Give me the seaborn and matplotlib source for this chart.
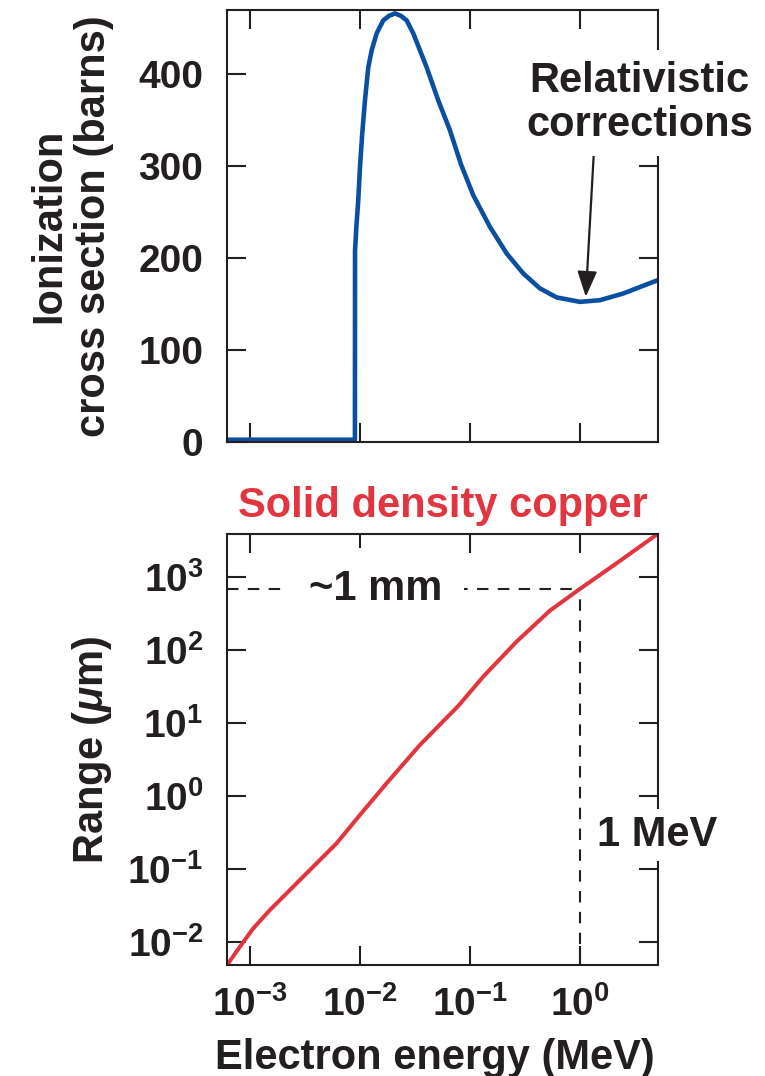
import numpy as np
import pandas as pd
import matplotlib
matplotlib.use("Agg")
import matplotlib.pyplot as plt
import seaborn as sns

# ---------------- data ----------------
# K-shell ionization cross section of copper (barns) vs electron energy (MeV)
xs_energy_mev = [6.18e-4, 0.009000, 0.009020, 0.009294, 0.009649, 0.01000, 0.010493,
                 0.011103, 0.011898, 0.012775, 0.014182, 0.016282, 0.018350, 0.020805,
                 0.023590, 0.026576, 0.030513, 0.040402, 0.051498, 0.065783, 0.08283,
                 0.10715, 0.15202, 0.21568, 0.30513, 0.43281, 0.61418, 1.0, 1.5199,
                 2.4754, 4.6384, 5.12]
xs_barns = [2.5, 2.5, 208.7, 235.9, 263.0, 298.9, 335.9,
            371.7, 407.6, 426.1, 444.6, 458.7, 463.6, 466.3,
            463.6, 458.7, 444.6, 407.6, 371.7, 339.1, 302.2,
            268.5, 234.0, 205.1, 183.4, 167.1, 157.3, 152.5, 154.3,
            161.6, 174.2, 176.1]

# Electron range in solid-density copper (um) vs electron energy (MeV)
range_energy_mev = [6.353e-4, 8.11e-4, 1.072e-3, 1.520e-3, 3.053e-3, 6.136e-3, 0.01000,
                    0.01747, 0.03511, 0.07831, 0.1322, 0.2655, 0.5337, 1.0, 2.154,
                    4.806, 5.083]
range_um = [0.005105, 0.008630, 0.01538, 0.02742, 0.07852, 0.2249, 0.5495,
            1.493, 5.000, 17.10, 43.15, 130.0, 345.9, 685, 1538,
            3648, 3846]

x_ticks = [1e-3, 1e-2, 1e-1, 1e0]
xs_ticks = [0, 100, 200, 300, 400]
range_ticks = [1e-2, 1e-1, 1e0, 1e1, 1e2, 1e3]

marker_energy = 1.0     # MeV
marker_range = 685      # um  (~1 mm)

xs_df = pd.DataFrame({"energy": xs_energy_mev, "xs": xs_barns})
rg_df = pd.DataFrame({"energy": range_energy_mev, "range": range_um})

# ---------------- style ----------------
sns.set_theme(style="ticks")
ink = "#231f20"
blue = "#0b4fa0"
red = "#e2353f"
plt.rcParams["font.family"] = ["Liberation Sans", "DejaVu Sans"]
plt.rcParams["font.weight"] = "bold"
plt.rcParams["axes.labelweight"] = "bold"
plt.rcParams["mathtext.fontset"] = "custom"
plt.rcParams["mathtext.rm"] = "Liberation Sans:bold"
plt.rcParams["mathtext.it"] = "Liberation Sans:italic:bold"
plt.rcParams["mathtext.bf"] = "Liberation Sans:bold"
plt.rcParams["text.color"] = ink
plt.rcParams["axes.edgecolor"] = ink
plt.rcParams["axes.labelcolor"] = ink
plt.rcParams["xtick.color"] = ink
plt.rcParams["ytick.color"] = ink

fig = plt.figure(figsize=(7.65, 10.76), dpi=100)
ax1 = fig.add_axes([0.2967, 0.5892, 0.5634, 0.4015])
ax2 = fig.add_axes([0.2967, 0.1032, 0.5634, 0.4006])

xlim = (6.18e-4, 5.12)

# ---------------- top panel ----------------
sns.lineplot(data=xs_df, x="energy", y="xs", ax=ax1, color=blue, lw=3.3,
             estimator=None, sort=False, solid_joinstyle="round", solid_capstyle="butt")
ax1.set_xscale("log")
ax1.set_xlim(*xlim)
ax1.set_ylim(0, 470)
ax1.set_xticks(x_ticks)
ax1.set_xticklabels([])
ax1.set_yticks(xs_ticks)
ax1.set_yticklabels([str(v) for v in xs_ticks])
ax1.set_xlabel("")
ax1.set_ylabel("Ionization\ncross section (barns)", fontsize=30, linespacing=1.15)
ax1.yaxis.set_label_coords(-0.262, 0.5)

ax1.text(3.5, 369, "Relativistic\ncorrections", fontsize=30, ha="center", va="center",
         linespacing=1.15, zorder=5,
         bbox=dict(boxstyle="square,pad=0.25", fc="white", ec="none"))
ax1.annotate("", xy=(1.13, 158), xytext=(1.34, 317),
             arrowprops=dict(arrowstyle="-|>,head_length=1.3,head_width=0.5",
                             color=ink, lw=1.6, shrinkA=0, shrinkB=0))

# ---------------- bottom panel ----------------
sns.lineplot(data=rg_df, x="energy", y="range", ax=ax2, color=red, lw=2.9,
             estimator=None, sort=False, solid_joinstyle="round")
ax2.set_xscale("log")
ax2.set_yscale("log")
ax2.set_xlim(*xlim)
ax2.set_ylim(4.84e-3, 3.88e3)
ax2.set_xticks(x_ticks)
ax2.set_yticks(range_ticks)
ax2.minorticks_off()

dash = dict(color=ink, lw=1.5, dashes=(5.5, 4.5))
ax2.plot([xlim[0], marker_energy], [marker_range, marker_range], **dash, zorder=1)
ax2.plot([marker_energy, marker_energy], [4.84e-3, marker_range], **dash, zorder=1)

ax2.text(0.0140, marker_range, "~1 mm", fontsize=30, ha="center", va="center", zorder=5,
         bbox=dict(boxstyle="square,pad=0.5", fc="white", ec="none"))
ax2.text(1.43, 0.292, "1 MeV", fontsize=30, ha="left", va="center", zorder=5,
         bbox=dict(boxstyle="square,pad=0.15", fc="white", ec="none"))

ax2.set_title("Solid density copper", color=red, fontsize=30, fontweight="bold", pad=12)
ax2.set_ylabel(r"Range ($\mu$m)", fontsize=30)
ax2.yaxis.set_label_coords(-0.262, 0.5)
ax2.set_xlabel("Electron energy (MeV)", fontsize=30, va="top")
ax2.xaxis.set_label_coords(0.483, -0.170)

# ---------------- common axes styling ----------------
for ax in (ax1, ax2):
    for s in ax.spines.values():
        s.set_linewidth(1.5)
        s.set_color(ink)
        s.set_visible(True)
    ax.tick_params(which="major", direction="in", length=13.5, width=1.5,
                   top=True, right=True, bottom=True, left=True, labelsize=28)
    ax.tick_params(axis="y", pad=17)
    ax.tick_params(axis="x", pad=15)
    ax.grid(False)

fig.savefig("out.png", dpi=100)
